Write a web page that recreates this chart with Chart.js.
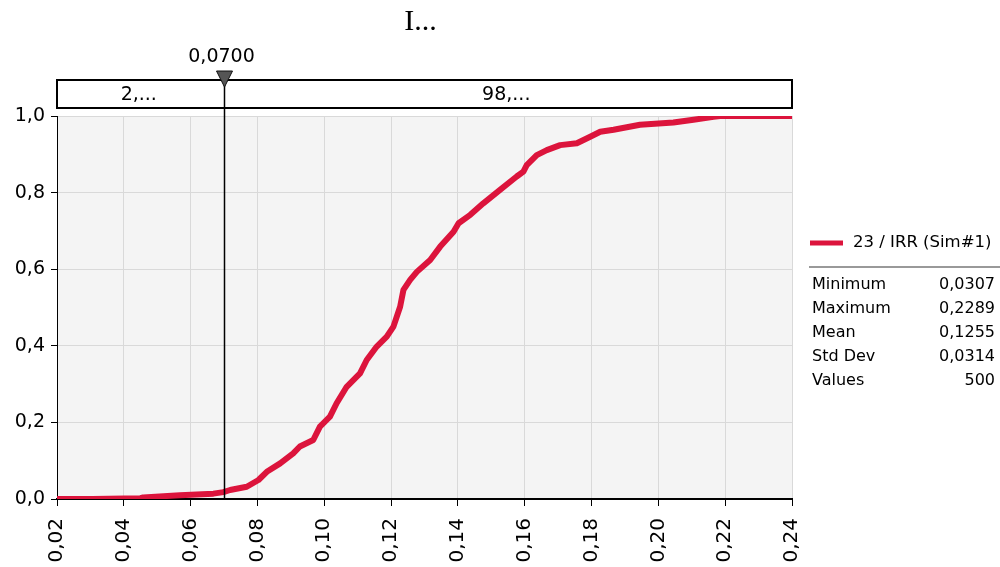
<!DOCTYPE html>
<html><head><meta charset="utf-8">
<script src="https://cdn.jsdelivr.net/npm/chart.js@4/dist/chart.umd.min.js"></script>
<style>html,body{margin:0;padding:0;background:#fff}canvas{display:block}</style>
</head><body>
<canvas id="c" width="1000" height="567"></canvas>
<script>
const titleText = "I...";
const seriesName = "23 / IRR (Sim#1)";
const irrValues = [0.02,0.0307,0.045,0.0458,0.0568,0.0668,0.0698,0.0718,0.0768,0.0803,0.0828,0.0868,0.0907,0.0927,0.0967,0.0987,0.1017,0.1037,0.1067,0.1107,0.1127,0.1157,0.1187,0.1207,0.1227,0.1237,0.1257,0.1277,0.1317,0.1347,0.1387,0.1402,0.1437,0.1476,0.1526,0.1576,0.1596,0.1606,0.1636,0.1666,0.1706,0.1756,0.1796,0.1826,0.1866,0.1945,0.2045,0.2105,0.2165,0.2185,0.24];
const cumProb   = [0,0,0.002,0.004,0.010,0.014,0.018,0.0235,0.032,0.0496,0.071,0.093,0.119,0.137,0.154,0.189,0.215,0.25,0.293,0.328,0.363,0.398,0.424,0.45,0.502,0.546,0.572,0.593,0.624,0.659,0.698,0.72,0.742,0.772,0.807,0.842,0.855,0.872,0.898,0.911,0.924,0.929,0.946,0.959,0.964,0.977,0.983,0.990,0.998,1.0,1.0];
const markerValue = 0.07;
const markerLabel = "0,0700";
const leftBandLabel = "2,...";
const rightBandLabel = "98,...";
const statNames = ["Minimum","Maximum","Mean","Std Dev","Values"];
const statValues = ["0,0307","0,2289","0,1255","0,0314","500"];
const xMin = 0.02, xMax = 0.24, xStep = 0.02;
const yMin = 0, yMax = 1, yStep = 0.2;

const RED = '#dc143c';
const FONT = 'DejaVu Sans';

const overlay = {
  id: 'overlay',
  beforeDraw(chart) {
    const a = chart.chartArea, ctx = chart.ctx;
    ctx.save();
    ctx.fillStyle = '#f4f4f4';
    ctx.fillRect(a.left, a.top, a.right - a.left, a.bottom - a.top);
    ctx.restore();
  },
  afterDraw(chart) {
    const a = chart.chartArea, ctx = chart.ctx;
    const mx = Math.round(chart.scales.x.getPixelForValue(markerValue)) + 0.5;
    ctx.save();
    // title
    ctx.fillStyle = '#000';
    ctx.font = '30px "Liberation Serif"';
    ctx.textAlign = 'center'; ctx.textBaseline = 'middle';
    ctx.fillText(titleText, (a.left + a.right) / 2 - 4, 22);
    // band box
    ctx.fillStyle = '#fff';
    ctx.fillRect(a.left, 80, a.right - a.left, 28);
    ctx.strokeStyle = '#000'; ctx.lineWidth = 2;
    ctx.strokeRect(a.left, 80, a.right - a.left, 28);
    ctx.fillStyle = '#000';
    ctx.font = '19px "' + FONT + '"';
    ctx.fillText(leftBandLabel, (a.left + mx) / 2 - 2, 95);
    ctx.fillText(rightBandLabel, (mx + a.right) / 2 - 2, 95);
    // vertical marker line
    ctx.strokeStyle = '#000'; ctx.lineWidth = 1.5;
    ctx.beginPath(); ctx.moveTo(mx, 80); ctx.lineTo(mx, a.bottom); ctx.stroke();
    // triangle
    ctx.fillStyle = '#555'; ctx.strokeStyle = '#111'; ctx.lineWidth = 1;
    ctx.beginPath(); ctx.moveTo(mx - 8, 71); ctx.lineTo(mx + 8, 71); ctx.lineTo(mx, 87); ctx.closePath();
    ctx.fill(); ctx.stroke();
    // marker label
    ctx.fillStyle = '#000';
    ctx.font = '19px "' + FONT + '"';
    ctx.fillText(markerLabel, mx - 3, 57);
    // legend
    ctx.strokeStyle = RED; ctx.lineWidth = 5;
    ctx.beginPath(); ctx.moveTo(810, 243); ctx.lineTo(843, 243); ctx.stroke();
    ctx.fillStyle = '#000';
    ctx.font = '16.5px "' + FONT + '"';
    ctx.textAlign = 'left';
    ctx.fillText(seriesName, 853, 243);
    ctx.strokeStyle = '#999'; ctx.lineWidth = 2;
    ctx.beginPath(); ctx.moveTo(809, 267); ctx.lineTo(1000, 267); ctx.stroke();
    ctx.font = '16px "' + FONT + '"';
    for (let i = 0; i < statNames.length; i++) {
      const y = 285 + i * 24;
      ctx.textAlign = 'left';
      ctx.fillText(statNames[i], 812, y);
      ctx.textAlign = 'right';
      ctx.fillText(statValues[i], 995, y);
    }
    ctx.restore();
  }
};

const points = irrValues.map((v, i) => ({x: v, y: cumProb[i]}));

new Chart(document.getElementById('c'), {
  type: 'line',
  data: { datasets: [{
    label: seriesName, data: points,
    borderColor: RED, backgroundColor: RED, borderWidth: 6,
    pointRadius: 0, tension: 0, fill: false,
    borderCapStyle: 'round', borderJoinStyle: 'round'
  }]},
  options: {
    responsive: false, animation: false,
    layout: { padding: { top: 116, right: 208, left: 0, bottom: 0 } },
    plugins: { legend: { display: false }, title: { display: false }, tooltip: { enabled: false } },
    scales: {
      x: {
        type: 'linear', min: xMin, max: xMax,
        afterFit(s) { s.height = 68; },
        ticks: {
          stepSize: xStep, minRotation: 90, maxRotation: 90, autoSkip: false,
          color: '#000', font: { family: FONT, size: 20 }, padding: 12,
          callback: v => v.toFixed(2).replace('.', ',')
        },
        grid: { color: '#d9d9d9', lineWidth: 1, tickLength: 7, tickColor: '#000', tickWidth: 1 },
        border: { color: '#000', width: 2 }
      },
      y: {
        min: yMin, max: yMax,
        afterFit(s) { s.width = 57; },
        ticks: {
          stepSize: yStep, color: '#000', font: { family: FONT, size: 19 }, padding: 6,
          callback: v => v.toFixed(1).replace('.', ',')
        },
        grid: { color: '#d9d9d9', lineWidth: 1, tickLength: 6, tickColor: '#000', tickWidth: 1 },
        border: { color: '#000', width: 1 }
      }
    }
  },
  plugins: [overlay]
});
</script>
</body></html>
